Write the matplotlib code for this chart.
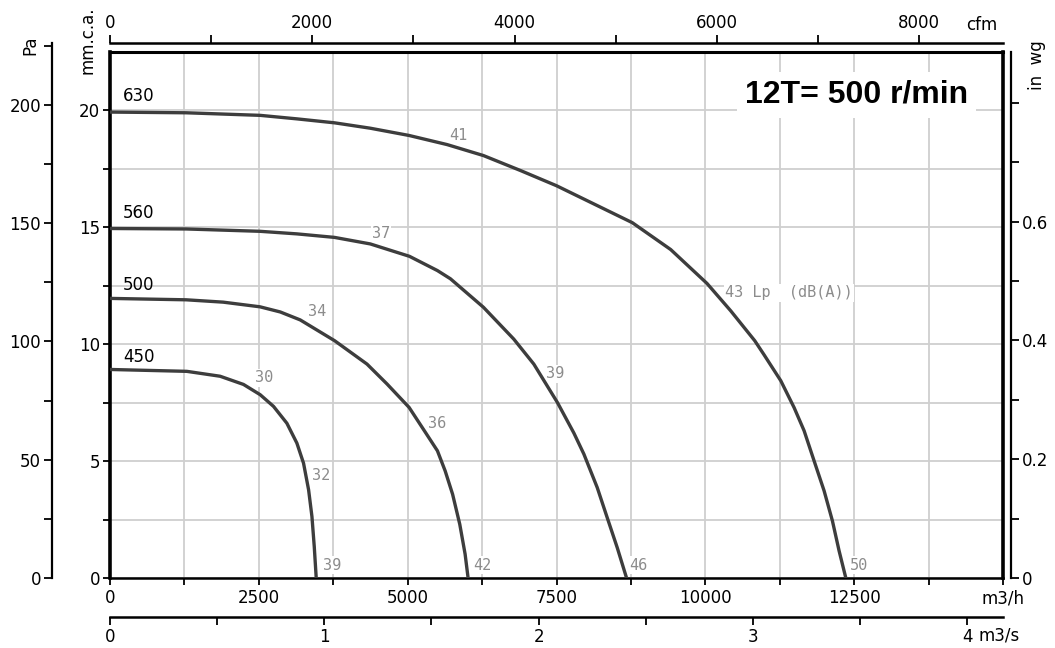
import numpy as np
import matplotlib
matplotlib.use('Agg')
import matplotlib.pyplot as plt
from matplotlib.ticker import MultipleLocator

# ---------------- data ----------------
title = '12T= 500 r/min'
fan_sizes = ['630', '560', '500', '450']

flow_630 = [0, 1278, 2523, 3139, 3773, 4372, 5023, 5662, 6273, 6895, 7500, 8072, 8773,
            9418, 10028, 10426, 10830, 10986, 11267, 11491, 11659, 11827, 11995, 12135,
            12247, 12360]
press_630 = [19.93, 19.9, 19.79, 19.64, 19.47, 19.24, 18.93, 18.54, 18.07, 17.43, 16.78,
             16.07, 15.2, 14.05, 12.6, 11.43, 10.15, 9.55, 8.44, 7.29, 6.3, 5.01, 3.73,
             2.44, 1.16, 0]

flow_560 = [0, 1280, 2520, 3140, 3770, 4372, 5030, 5500, 5718, 6273, 6782, 7119, 7517,
            7792, 7960, 8184, 8352, 8520, 8677]
press_560 = [14.95, 14.93, 14.83, 14.72, 14.57, 14.29, 13.76, 13.15, 12.8, 11.58, 10.22,
             9.15, 7.5, 6.2, 5.3, 3.87, 2.58, 1.3, 0]

flow_500 = [0, 1280, 1900, 2520, 2860, 3195, 3773, 4317, 4653, 5023, 5280, 5500, 5630,
            5755, 5875, 5965, 6015]
press_500 = [11.96, 11.9, 11.8, 11.6, 11.38, 11.04, 10.15, 9.15, 8.3, 7.3, 6.3, 5.44, 4.58,
             3.58, 2.3, 1.02, 0]

flow_450 = [0, 1290, 1850, 2242, 2523, 2747, 2971, 3139, 3251, 3336, 3392, 3431, 3464]
press_450 = [8.92, 8.84, 8.63, 8.28, 7.84, 7.34, 6.62, 5.77, 4.91, 3.77, 2.63, 1.34, 0]

noise_630 = ['41', '43 Lp  (dB(A))', '50']
noise_560 = ['37', '39', '46']
noise_500 = ['34', '36', '42']
noise_450 = ['30', '32', '39']

m3h_labels = ['0', '2500', '5000', '7500', '10000', '12500', 'm3/h']
m3s_ticks = [0, 1, 2, 3, 4]
m3s_labels = ['0', '1', '2', '3', '4']
cfm_ticks = [0, 2000, 4000, 6000, 8000]
mm_labels = ['0', '5', '10', '15', '20']
pa_ticks = [0, 50, 100, 150, 200]
inwg_ticks = [0, 0.2, 0.4, 0.6, 0.8]
inwg_labels = ['0', '0.2', '0.4', '0.6', '']

# ---------------- unit conversions ----------------
PA_PER_MM = 9.88
M3H_PER_CFM = 1.699
M3H_PER_M3S = 3600.0
MM_PER_INWG = 25.4

# ---------------- layout ----------------
W, H = 1055, 648
X0, X1, Y0, Y1 = 110, 1003, 52, 578
XMAX, YMAX = 15000, 22.5
FS = 12
plt.rcParams['font.family'] = 'DejaVu Sans'

fig = plt.figure(figsize=(W / 100, H / 100), dpi=100)
ax = fig.add_axes([X0 / W, 1 - Y1 / H, (X1 - X0) / W, (Y1 - Y0) / H])
ax.set_xlim(0, XMAX)
ax.set_ylim(0, YMAX)


def pxd(xp, yp):
    """pixel position in the image -> data coordinates of main axes"""
    return (xp - X0) / (X1 - X0) * XMAX, (Y1 - yp) / (Y1 - Y0) * YMAX


# grid + main ticks
xt = np.arange(0, XMAX + 1, 1250)
yt = np.arange(0, 20.01, 2.5)
ax.set_xticks(xt)
ax.set_yticks(yt)
ax.grid(True, color='#cfcfcf', lw=1.3, zorder=0)
ax.set_axisbelow(True)
ax.set_xticklabels([m3h_labels[i // 2] if i % 2 == 0 else '' for i in range(len(xt))])
ax.set_yticklabels([mm_labels[i // 2] if i % 2 == 0 else '' for i in range(len(yt))])
ax.tick_params(axis='both', direction='out', length=5, width=1.3, labelsize=FS, color='black')
ax.tick_params(axis='x', pad=3)
ax.tick_params(axis='y', pad=2)
for s, lw in (('left', 2.6), ('right', 2.6), ('top', 2.2), ('bottom', 1.8)):
    ax.spines[s].set_linewidth(lw)
    ax.spines[s].set_color('black')

# curves
curves = [(flow_630, press_630), (flow_560, press_560), (flow_500, press_500), (flow_450, press_450)]
for fx, fy in curves:
    ax.plot(fx, fy, color='#3d3d3d', lw=2.4, solid_joinstyle='round', zorder=3)

# fan size labels
size_pos = [(123, 96), (123, 213), (123, 285), (123, 357)]
for name, (xp, yp) in zip(fan_sizes, size_pos):
    xd, yd = pxd(xp, yp)
    ax.text(xd, yd, name, fontsize=FS, color='black', ha='left', va='center', zorder=4)

# noise labels
noise_pos = [
    (noise_630, [(449, 136), (725, 293), (850, 565)]),
    (noise_560, [(372, 233), (546, 374), (629, 565)]),
    (noise_500, [(308, 312), (428, 424), (473, 565)]),
    (noise_450, [(255, 378), (312, 476), (323, 565)]),
]
for labels, poss in noise_pos:
    for lab, (xp, yp) in zip(labels, poss):
        xd, yd = pxd(xp, yp)
        ax.text(xd, yd, lab, fontsize=11, family='DejaVu Sans Mono', color='#8c8c8c',
                ha='left', va='center', zorder=2,
                bbox=dict(facecolor='white', edgecolor='none', pad=0.8))

# title
xd, yd = pxd(745, 95)
ax.text(xd, yd, title, fontsize=23, fontweight='bold', family='Liberation Sans',
        ha='left', va='center', zorder=5,
        bbox=dict(facecolor='white', edgecolor='none', pad=6))

# ---------------- secondary axes ----------------
# top: cfm
top = ax.secondary_xaxis(1 + (Y0 - 43) / (Y1 - Y0),
                         functions=(lambda x: x / M3H_PER_CFM, lambda x: x * M3H_PER_CFM))
top.set_xticks(cfm_ticks)
top.set_xticklabels([str(t) for t in cfm_ticks])
top.xaxis.set_minor_locator(MultipleLocator(1000))
top.tick_params(which='both', direction='out', length=6, width=1.3, labelsize=FS, pad=2)
top.spines['top'].set_linewidth(1.8)
fig.text(966 / W, 1 - 25 / H, 'cfm', fontsize=FS, ha='left', va='center')

# bottom: m3/s
bot = ax.secondary_xaxis(-(617 - Y1) / (Y1 - Y0),
                         functions=(lambda x: x / M3H_PER_M3S, lambda x: x * M3H_PER_M3S))
bot.set_xticks(m3s_ticks)
bot.set_xticklabels(m3s_labels)
bot.xaxis.set_minor_locator(MultipleLocator(0.5))
bot.tick_params(which='both', direction='out', length=6, width=1.3, labelsize=FS, pad=2)
bot.spines['bottom'].set_linewidth(1.8)
fig.text(979 / W, 1 - 636 / H, 'm3/s', fontsize=FS, ha='left', va='center')

# right: in wg
rgt = ax.secondary_yaxis((1011 - X0) / (X1 - X0),
                         functions=(lambda y: y / MM_PER_INWG, lambda y: y * MM_PER_INWG))
rgt.set_yticks(inwg_ticks)
rgt.set_yticklabels(inwg_labels)
rgt.yaxis.set_minor_locator(MultipleLocator(0.1))
rgt.tick_params(which='both', direction='out', length=6, width=1.3, labelsize=FS, pad=2)
rgt.spines['right'].set_linewidth(1.6)
fig.text(1037 / W, 1 - 65 / H, 'in  wg', fontsize=FS, rotation=90, ha='center', va='center')

# left: Pa axis (separate, extends above the frame)
PA_TOP_PX = 43
pa_top = (Y1 - PA_TOP_PX) / (Y1 - Y0) * YMAX * PA_PER_MM
axp = fig.add_axes([52 / W, 1 - Y1 / H, 0.0001, (Y1 - PA_TOP_PX) / H])
axp.set_ylim(0, pa_top)
axp.patch.set_visible(False)
for s in ('right', 'top', 'bottom'):
    axp.spines[s].set_visible(False)
axp.spines['left'].set_linewidth(1.6)
axp.set_xticks([])
axp.set_yticks(pa_ticks)
axp.set_yticklabels([str(t) for t in pa_ticks])
axp.yaxis.set_minor_locator(MultipleLocator(25))
axp.tick_params(which='both', direction='out', length=6, width=1.3, labelsize=FS, pad=2)
fig.text(30 / W, 1 - 45 / H, 'Pa', fontsize=FS, rotation=90, ha='center', va='center')
fig.text(88 / W, 1 - 40 / H, 'mm.c.a.', fontsize=FS, rotation=90, ha='center', va='center')

fig.savefig('out.png', dpi=100)
